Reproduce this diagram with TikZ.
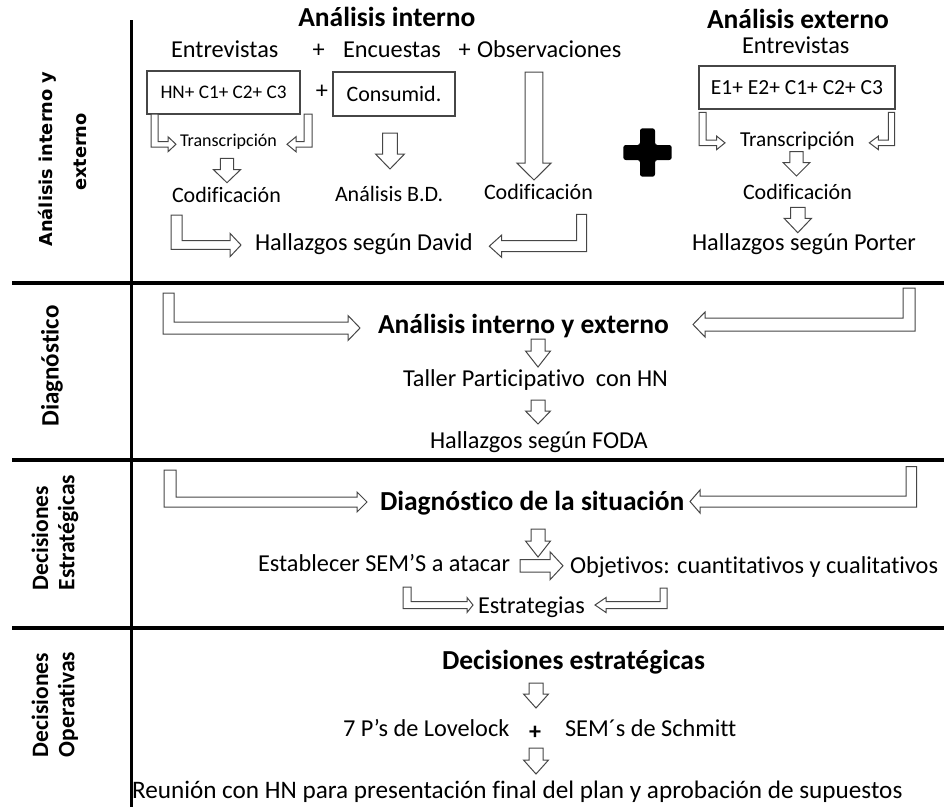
\documentclass[tikz,border=0pt]{standalone}
\usepackage{fontspec}
\setmainfont{Carlito}[Ligatures={NoCommon,NoRare,NoContextual}]
\newfontfamily\labfont{DejaVu Sans}
\definecolor{arrowgray}{RGB}{70,70,70}
\tikzset{
  every node/.style={inner sep=0pt, outer sep=0pt},
  reg/.style={font=\fontsize{24.3}{29}\selectfont, anchor=base west},
  med/.style={font=\fontsize{22}{26}\selectfont, anchor=base west},
  bld/.style={font=\bfseries\fontsize{27.5}{33}\selectfont, anchor=base west},
  barrow/.style={draw=arrowgray, line width=1pt, fill=white, line join=miter},
  divider/.style={line width=3.5pt, black},
  boxstyle/.style={draw=arrowgray, line width=1.2pt},
  sidelab/.style={font=\bfseries\fontsize{23.5}{28}\selectfont, rotate=90},
}
\newcommand\downarr[6]{% cx, top, headstart, tip, shaft half, head half
  \draw[barrow] ({#1-#5},#2) -- ({#1+#5},#2) -- ({#1+#5},#3) -- ({#1+#6},#3) -- (#1,#4) -- ({#1-#6},#3) -- ({#1-#5},#3) -- cycle;}
\newcommand\bentarr[8]{% xo, xi, ytop, yshafttop, ybottom, xheadbase, xtip, headhalf
  \draw[barrow] (#1,#3) -- (#2,#3) -- (#2,#4) -- (#6,#4) -- (#6,{(#4+#5)/2-#8}) -- (#7,{(#4+#5)/2}) -- (#6,{(#4+#5)/2+#8}) -- (#6,#5) -- (#1,#5) -- cycle;}
\newcommand\rightarr[6]{% xleft, yshafttop, ybottom, xheadbase, xtip, headhalf
  \draw[barrow] (#1,#2) -- (#4,#2) -- (#4,{(#2+#3)/2-#6}) -- (#5,{(#2+#3)/2}) -- (#4,{(#2+#3)/2+#6}) -- (#4,#3) -- (#1,#3) -- cycle;}

\begin{document}
\begin{tikzpicture}[x=1pt,y=-1pt]
\useasboundingbox (0,0) rectangle (944,807);

% dividers
\draw[divider] (131.5,20) -- (131.5,807);
\draw[divider] (12,283) -- (944,283);
\draw[divider] (12,460) -- (944,460);
\draw[divider] (12,628) -- (944,628);

% side labels
\node[font=\labfont\bfseries\fontsize{17.8}{21}\selectfont, rotate=90] (lab1a) at (47,159) {Análisis interno y};
\node[font=\labfont\bfseries\fontsize{17.8}{21}\selectfont, rotate=90] (lab1b) at (80,152) {externo};
\node[sidelab, font=\bfseries\fontsize{25}{30}\selectfont] (lab2) at (52,366) {Diagnóstico};
\node[sidelab, anchor=west] (lab3a) at (40,590) {Decisiones};
\node[sidelab, anchor=west] (lab3b) at (68,590) {Estratégicas};
\node[sidelab, anchor=west] (lab4a) at (40,757) {Decisiones};
\node[sidelab, anchor=west] (lab4b) at (68,757) {Operativas};

% ---------- section 1 ----------
\node[bld] (ai) at (298.3,26.7) {Análisis interno};
\node[reg] (entr) at (171,57.3) {Entrevistas};
\node[reg, anchor=base] (p1) at (318.7,57.3) {+};
\node[reg] (encu) at (343,57.3) {Encuestas};
\node[reg, anchor=base] (p2) at (464.7,57.3) {+};
\node[reg] (obse) at (477,57.3) {Observaciones};

\node[boxstyle, minimum width=153pt, minimum height=43pt, font=\fontsize{19.2}{23}\selectfont] (box1) at (223.5,92.5) {HN+ C1+ C2+ C3};
\node[reg, anchor=base] (p3) at (322,98.3) {+};
\node[boxstyle, minimum width=122pt, minimum height=44pt, font=\fontsize{22}{26}\selectfont] (box2) at (394,94) {Consumid.};

\node[font=\fontsize{18}{22}\selectfont, anchor=base west] (tr1) at (180,146.7) {Transcripción};
\bentarr{151}{158}{114}{141.5}{147}{168}{176}{7.5}
\bentarr{312}{304}{114}{141.5}{147}{296}{287}{7.5}
\downarr{227}{158.3}{169.5}{182.7}{6.7}{13.7}
\downarr{390}{133}{154}{169}{7.3}{14.5}
\downarr{534}{72}{163}{180}{8.8}{17.2}

\node[med] (cod1) at (172,202.7) {Codificación};
\node[med] (abd) at (335,201.7) {Análisis B.D.};
\node[med] (cod2) at (484,199.3) {Codificación};

\bentarr{171}{182}{215}{240.7}{249.3}{230}{241}{11.7}
\bentarr{586.7}{576.7}{214.3}{240.7}{251.7}{501.7}{489.3}{11.2}
\node[reg] (hd) at (255,250.7) {Hallazgos según David};

% big plus
\fill[black, rounded corners=2.5pt] (640,128.3) -- (655,128.3) -- (655,145) -- (671.7,145) -- (671.7,160) -- (655,160) -- (655,176.7) -- (640,176.7) -- (640,160) -- (623.3,160) -- (623.3,145) -- (640,145) -- cycle;

% external analysis
\node[bld] (ae) at (707,28.3) {Análisis externo};
\node[reg] (entr2) at (742,53.3) {Entrevistas};
\node[boxstyle, minimum width=196pt, minimum height=43pt, font=\fontsize{21.5}{26}\selectfont] (box3) at (797,87.5) {E1+ E2+ C1+ C2+ C3};
\bentarr{699}{706}{112.3}{140}{145.7}{716.7}{725}{6.7}
\bentarr{894.7}{888.3}{112.3}{140}{145.7}{878.3}{869.3}{6.7}
\node[font=\fontsize{21.3}{26}\selectfont, anchor=base west] (tr2) at (740,146.7) {Transcripción};
\downarr{796.5}{151.7}{162.7}{176}{6.7}{13.3}
\node[med] (cod3) at (743,199) {Codificación};
\downarr{797.8}{207.3}{218.3}{232.7}{7.2}{13.7}
\node[reg] (hp) at (692,250.7) {Hallazgos según Porter};

% ---------- section 2 ----------
\bentarr{163}{174}{293}{322}{334}{348}{360}{12.5}
\bentarr{915}{903}{288}{318}{331}{705}{693}{12.5}
\node[bld] (aie) at (378,333.3) {Análisis interno y externo};
\downarr{538}{339}{351}{367}{7}{12.5}
\node[reg] (taller) at (403,386.7) {Taller Participativo\ \ con HN};
\downarr{538}{400}{411}{424}{7}{12.5}
\node[reg] (hf) at (430,448.3) {Hallazgos según FODA};

% ---------- section 3 ----------
\bentarr{164}{176}{470}{497}{507}{357}{367}{10}
\bentarr{916.7}{906}{466.7}{496}{507}{700}{690}{11.5}
\node[bld] (dls) at (380,510) {Diagnóstico de la situación};
\downarr{538}{529}{541}{557}{7}{12.5}
\node[reg] (sem) at (258,571.7) {Establecer SEM’S a atacar};
\rightarr{520}{559.5}{572}{550}{563}{14}
\node[reg] (obj) at (570,573.3) {Objetivos: cuantitativos y cualitativos};
\bentarr{403}{411}{587}{601.5}{608.5}{467}{473}{7.5}
\bentarr{667}{660}{588}{601.5}{608.5}{606}{595}{7.5}
\node[reg] (estr) at (478,613.3) {Estrategias};

% ---------- section 4 ----------
\node[bld] (de) at (442,669.7) {Decisiones estratégicas};
\downarr{536}{683}{694}{708}{7}{12.5}
\node[reg] (lov) at (343,736.3) {7 P’s de Lovelock};
\node[font=\bfseries\fontsize{24}{29}\selectfont, anchor=base] (p4) at (535,739) {+};
\node[reg] (sch) at (565,736.3) {SEM´s de Schmitt};
\downarr{536}{748}{760}{774}{7}{12.5}
\node[reg, font=\fontsize{25.2}{30}\selectfont] (reu) at (132,798) {Reunión con HN para presentación final del plan y aprobación de supuestos};
\end{tikzpicture}
\end{document}
